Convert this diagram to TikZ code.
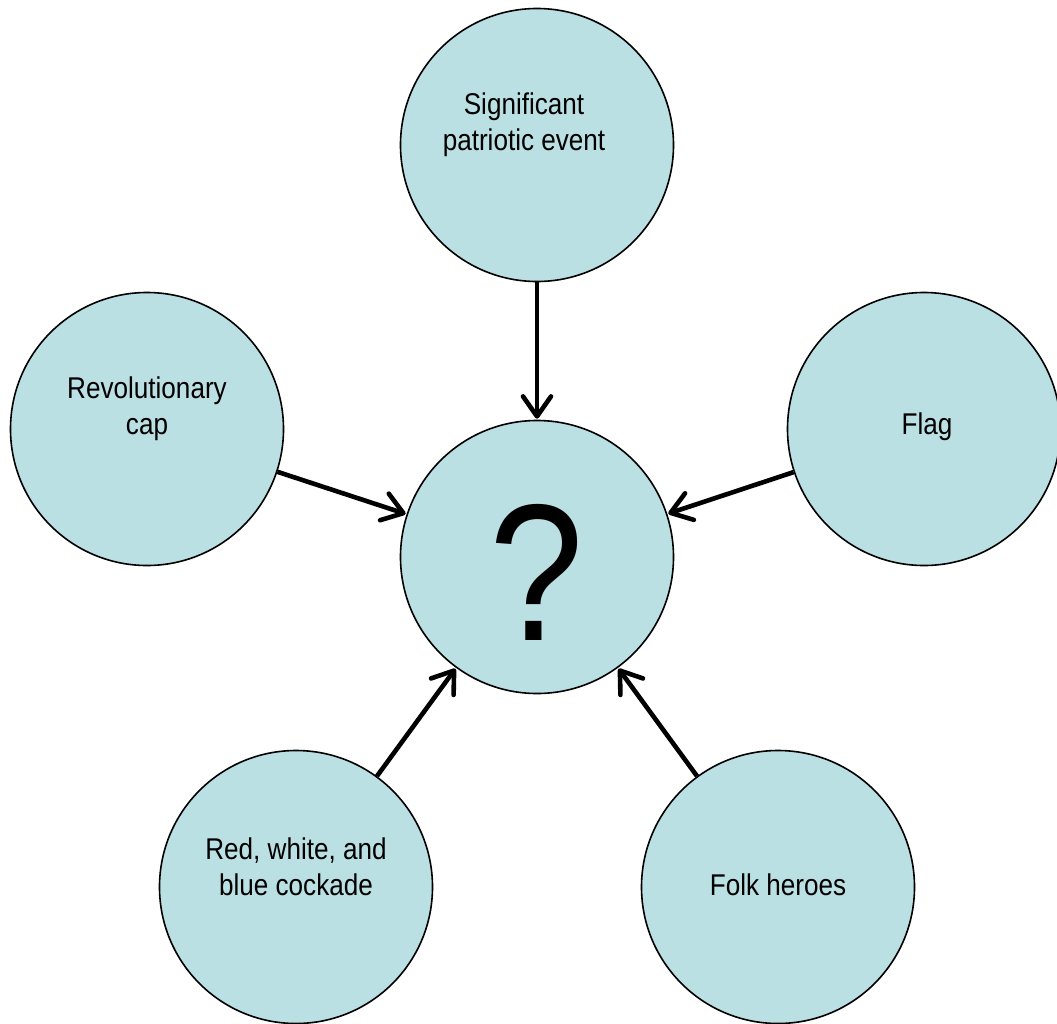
\documentclass[tikz,border=0pt]{standalone}
\usepackage{fontspec}
\setmainfont{Liberation Sans}[FakeStretch=0.87]
\usetikzlibrary{arrows.meta}
\definecolor{bubble}{RGB}{187,224,227}
\tikzset{
  bubble/.style={circle, draw=black, line width=1.6pt, fill=bubble, minimum size=273pt, inner sep=0pt},
  lbl/.style={align=center, font=\fontsize{30}{36}\selectfont, inner sep=0pt},
  feed/.style={line width=4.6pt, -{Straight Barb[length=20pt,width=28pt,line cap=round,line join=round]}, shorten >=1pt},
}
\begin{document}
\begin{tikzpicture}[x=1pt,y=-1pt]
\useasboundingbox (0,0) rectangle (1057,1023);
\node[bubble] (c) at (537,557) {};
\node[bubble] (t) at (537,145) {};
\node[bubble] (l) at (147,429) {};
\node[bubble] (r) at (924,429) {};
\node[bubble] (bl) at (296,887) {};
\node[bubble] (br) at (778,887) {};
\node[inner sep=0pt, font=\fontsize{195}{195}\selectfont] (q) at (537,572) {?};
\node[lbl] (tl) at (524,125) {Significant\\patriotic event};
\node[lbl] (ll) at (147,409) {Revolutionary\\cap};
\node[lbl] (rl) at (927,427) {Flag};
\node[lbl] (bll) at (296,867) {Red, white, and\\blue cockade};
\node[lbl] (brl) at (778,885) {Folk heroes};
\draw[feed] (t) -- (c);
\draw[feed] (l) -- (c);
\draw[feed] (r) -- (c);
\draw[feed] (bl) -- (c);
\draw[feed] (br) -- (c);
\end{tikzpicture}
\end{document}
